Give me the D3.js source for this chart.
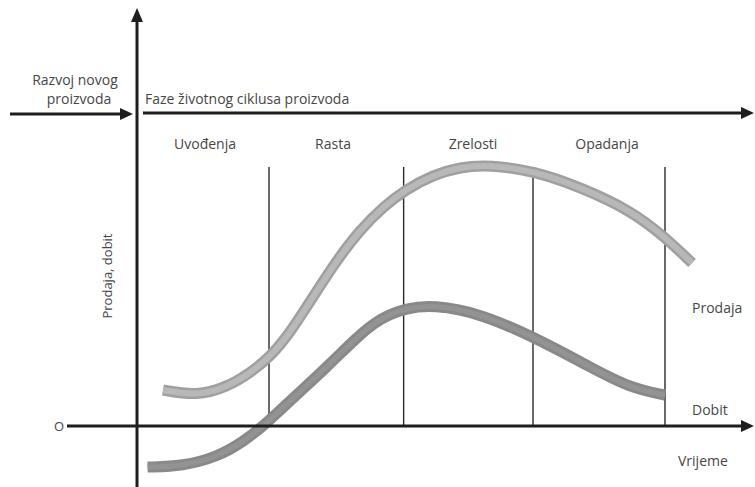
<!DOCTYPE html>
<html><head><meta charset="utf-8">
<script src="https://cdn.jsdelivr.net/npm/d3@7"></script>
<style>html,body{margin:0;padding:0;background:#fff;}svg{display:block;}text{font-family:"Open Sans",Lato,sans-serif;fill:#464646;}</style>
</head><body><div id="chart"></div>
<script>
// Phases (time units: each phase ~10)
const phases = ["Uvođenja", "Rasta", "Zrelosti", "Opadanja"];
const phaseBounds = [0, 10, 20.2, 30, 40];
// Sales (Prodaja) curve: time, value
const salesT = [1.97, 4.55, 6.82, 8.56, 10.08, 11.59, 13.33, 15.15, 16.89, 18.64, 20.30, 22.42, 24.47, 26.74, 30.08, 33.56, 37.35, 40.0, 42.05];
const salesV = [13.85, 11.54, 15.0, 20.38, 26.54, 35.77, 49.62, 63.85, 75.38, 84.23, 90.77, 96.54, 99.62, 100.38, 98.08, 91.92, 83.08, 72.69, 62.69];
// Profit (Dobit) curve
const profitT = [0.8, 3.48, 6.06, 8.03, 9.85, 11.82, 14.39, 16.67, 18.41, 20.45, 22.42, 25.98, 30.53, 34.32, 37.35, 40.0];
const profitV = [-15.8, -15.4, -11.92, -6.15, 1.15, 10.77, 22.69, 34.23, 41.54, 45.38, 46.54, 43.46, 33.08, 22.69, 14.62, 11.92];
const seriesLabels = ["Prodaja", "Dobit"];
const axisLabels = {y: "Prodaja, dobit", x: "Vrijeme", zero: "O", pre1: "Razvoj novog", pre2: "proizvoda", phasesTitle: "Faze životnog ciklusa proizvoda"};

const W = 755, H = 487;
const svg = d3.select("#chart").append("svg").attr("width", W).attr("height", H);
const x = d3.scaleLinear().domain([0, 46]).range([137, 744.2]);
const y = d3.scaleLinear().domain([0, 100]).range([426, 166]);

const axisColor = "#1e1e1e";
function arrowHead(tipX, tipY, dir) {
  let pts;
  if (dir === "right") pts = [[tipX, tipY], [tipX - 13, tipY - 6], [tipX - 13, tipY + 6]];
  else pts = [[tipX, tipY], [tipX - 6, tipY + 14], [tipX + 6, tipY + 14]];
  svg.append("path").attr("d", "M" + pts.map(p => p.join(",")).join("L") + "Z").attr("fill", axisColor);
}

// Phase separator lines
const phaseTopY = 167;
phaseBounds.slice(1).forEach(b => {
  svg.append("line").attr("x1", x(b)).attr("x2", x(b)).attr("y1", phaseTopY).attr("y2", y(0))
    .attr("stroke", "#2a2a2a").attr("stroke-width", 1.4);
});

// Curves
const line = d3.line().x(d => x(d[0])).y(d => y(d[1])).curve(d3.curveBasis);
const salesData = salesT.map((t, i) => [t, salesV[i]]);
const profitData = profitT.map((t, i) => [t, profitV[i]]);

svg.append("path").attr("d", line(profitData)).attr("fill", "none").attr("stroke", "#898989").attr("stroke-width", 11);
svg.append("path").attr("d", line(profitData)).attr("fill", "none").attr("stroke", "#939393").attr("stroke-width", 5);
svg.append("path").attr("d", line(salesData)).attr("fill", "none").attr("stroke", "#a0a0a0").attr("stroke-width", 11);
svg.append("path").attr("d", line(salesData)).attr("fill", "none").attr("stroke", "#b8b8b8").attr("stroke-width", 6);

// Axes
svg.append("line").attr("x1", x(0)).attr("x2", x(0)).attr("y1", 487).attr("y2", 20).attr("stroke", axisColor).attr("stroke-width", 3);
arrowHead(x(0), 8, "up");
svg.append("line").attr("x1", 67).attr("x2", 745).attr("y1", y(0)).attr("y2", y(0)).attr("stroke", axisColor).attr("stroke-width", 3);
arrowHead(754, y(0), "right");
svg.append("line").attr("x1", 10).attr("x2", 124).attr("y1", 114).attr("y2", 114).attr("stroke", axisColor).attr("stroke-width", 3);
arrowHead(133, 114, "right");
svg.append("line").attr("x1", 143).attr("x2", 745).attr("y1", 113).attr("y2", 113).attr("stroke", axisColor).attr("stroke-width", 3);
arrowHead(754, 113, "right");

// Texts
const fs = 14;
svg.append("text").attr("x", 75).attr("y", 85).attr("text-anchor", "middle").attr("font-size", fs).text(axisLabels.pre1);
svg.append("text").attr("x", 79).attr("y", 104).attr("text-anchor", "middle").attr("font-size", fs).text(axisLabels.pre2);
svg.append("text").attr("x", 145).attr("y", 104).attr("font-size", fs).text(axisLabels.phasesTitle);
const phaseCenters = [205, 333, 473, 607];
phases.forEach((p, i) => {
  svg.append("text").attr("x", phaseCenters[i]).attr("y", 149).attr("text-anchor", "middle").attr("font-size", fs).text(p);
});
svg.append("text").attr("x", 692).attr("y", 313).attr("font-size", fs).text(seriesLabels[0]);
svg.append("text").attr("x", 692).attr("y", 415).attr("font-size", fs).text(seriesLabels[1]);
svg.append("text").attr("x", 678).attr("y", 466).attr("font-size", fs).text(axisLabels.x);
svg.append("text").attr("x", 59).attr("y", y(0) + 5).attr("text-anchor", "middle").attr("font-size", 13).text(axisLabels.zero);
svg.append("text").attr("transform", "translate(112,276) rotate(-90)").attr("text-anchor", "middle").attr("font-size", 13).text(axisLabels.y);
</script></body></html>
